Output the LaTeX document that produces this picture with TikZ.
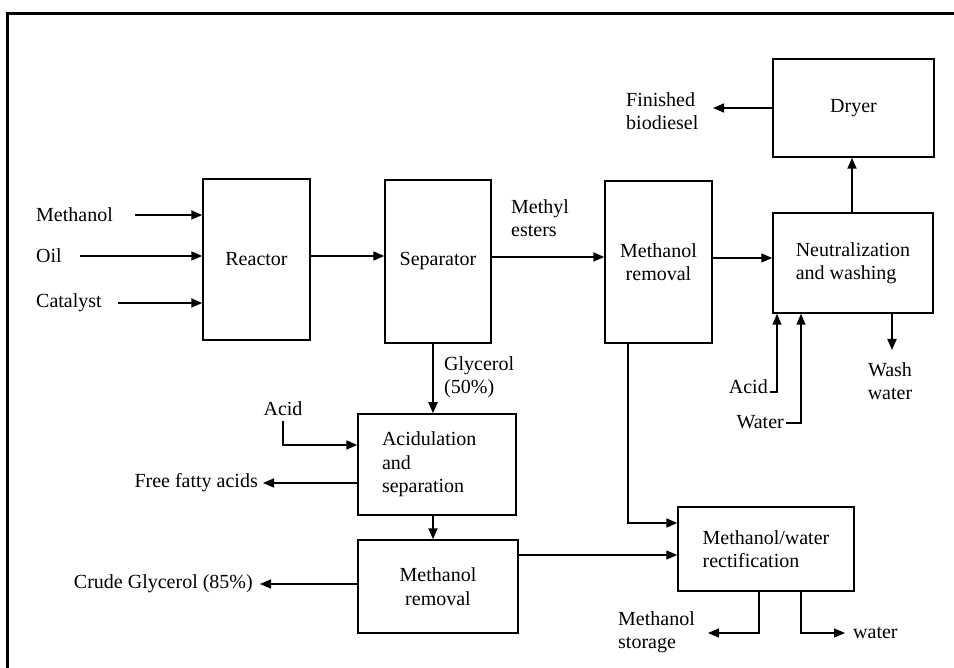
\documentclass[tikz,border=0pt]{standalone}
\usepackage{fontspec}
\setmainfont{Liberation Serif}
\usetikzlibrary{arrows.meta}
\begin{document}
\begin{tikzpicture}[x=1pt,y=-1pt,
  blk/.style={draw, line width=1.5pt, inner sep=0pt, font=\fontsize{20}{23.5}\selectfont},
  lbl/.style={inner sep=0pt, font=\fontsize{20}{22.5}\selectfont},
  arr/.style={line width=2pt, -{Triangle[length=11pt,width=9pt]}},
  arrthin/.style={line width=1.4pt, -{Triangle[length=11pt,width=9pt]}}]
\useasboundingbox (0,0) rectangle (954,668);
\draw[line width=3pt] (7,668) -- (7,14) -- (954,14);

% boxes
\node[blk, minimum width=107pt, minimum height=161pt] (reactor) at (256.5,259.5) {Reactor};
\node[blk, minimum width=106pt, minimum height=163pt] (separator) at (438,261.5) {Separator};
\node[blk, minimum width=107pt, minimum height=162pt, align=center] (mrem1) at (658.5,262) {Methanol\\removal};
\node[blk, minimum width=161pt, minimum height=98pt] (dryer) at (853.5,108) {Dryer};
\node[blk, minimum width=160pt, minimum height=100pt, align=left] (neut) at (853,263) {Neutralization\\and washing};
\node[blk, minimum width=158pt, minimum height=101pt, align=left, text width=110pt] (acidsep) at (437,464.5) {Acidulation\\and\\separation\\[-4pt]};
\node[blk, minimum width=160pt, minimum height=93pt, align=center] (mrem2) at (438,586.5) {Methanol\\removal};
\node[blk, minimum width=176pt, minimum height=84pt, align=left] (rect) at (766,549) {Methanol/water\\rectification};

% labels
\node[lbl, anchor=west] (lmeth) at (36,215) {Methanol};
\node[lbl, anchor=west] (loil) at (36,256) {Oil};
\node[lbl, anchor=west] (lcat) at (36,303) {Catalyst};
\node[lbl, anchor=west, align=left] (lmest) at (511,218) {Methyl\\esters};
\node[lbl, anchor=west, align=left] (lfin) at (626,111) {Finished\\biodiesel};
\node[lbl, anchor=east] (lacid2) at (768,387) {Acid};
\node[lbl, anchor=east] (lwater2) at (784,422) {Water};
\node[lbl, align=center] (lwash) at (890,381) {Wash\\water};
\node[lbl, anchor=west, align=left] (lgly) at (444,377) {Glycerol\\(50\%)};
\node[lbl] (lacid1) at (283,409) {Acid};
\node[lbl, anchor=east] (lffa) at (258,483) {Free fatty acids};
\node[lbl, anchor=east] (lcrude) at (253,584) {Crude Glycerol (85\%)};
\node[lbl, anchor=west, align=left] (lstor) at (618,632) {Methanol\\storage};
\node[lbl, anchor=west] (lwat) at (853,633) {water};

% free ends
\coordinate (cmeth) at (135,215);
\coordinate (coil) at (80,256);
\coordinate (ccat) at (118,303);
\coordinate (cfin) at (713,108);
\coordinate (cacid2) at (770,392);
\coordinate (cwater2) at (786,423);
\coordinate (cwash) at (892,350);
\coordinate (cacid1) at (283,421);
\coordinate (cffa) at (263,483);
\coordinate (ccrude) at (260,584);
\coordinate (cstor) at (708,633);
\coordinate (cwat) at (845,633);

% connectors
\draw[arr] (cmeth) -- (cmeth -| reactor.west);
\draw[arr] (coil) -- (coil -| reactor.west);
\draw[arr] (ccat) -- (ccat -| reactor.west);
\draw[arr] (reactor.east |- 0,256) -- (separator.west |- 0,256);
\draw[arr] (separator.east |- 0,257) -- (mrem1.west |- 0,257);
\draw[arrthin] (mrem1.east |- 0,258) -- (neut.west |- 0,258);
\draw[arr] (neut.north -| 852,0) -- (dryer.south -| 852,0);
\draw[arrthin] (dryer.west) -- (cfin);
\draw[arr] (neut.south -| 892,0) -- (cwash);
\draw[arrthin] (cacid2) -| (neut.south -| 777,0);
\draw[arrthin] (cwater2) -| (neut.south -| 801,0);
\draw[arr] (separator.south -| 433,0) -- (acidsep.north -| 433,0);
\draw[arr] (cacid1) |- (acidsep.west |- 0,445);
\draw[arrthin] (acidsep.west |- 0,483) -- (cffa);
\draw[arr] (acidsep.south -| 433,0) -- (mrem2.north -| 433,0);
\draw[arrthin] (mrem2.west |- 0,584) -- (ccrude);
\draw[arr] (mrem1.south -| 628,0) |- (rect.west |- 0,523);
\draw[arrthin] (mrem2.east |- 0,555) -- (rect.west |- 0,555);
\draw[arrthin] (rect.south -| 759,0) |- (cstor);
\draw[arrthin] (rect.south -| 801,0) |- (cwat);
\end{tikzpicture}
\end{document}
